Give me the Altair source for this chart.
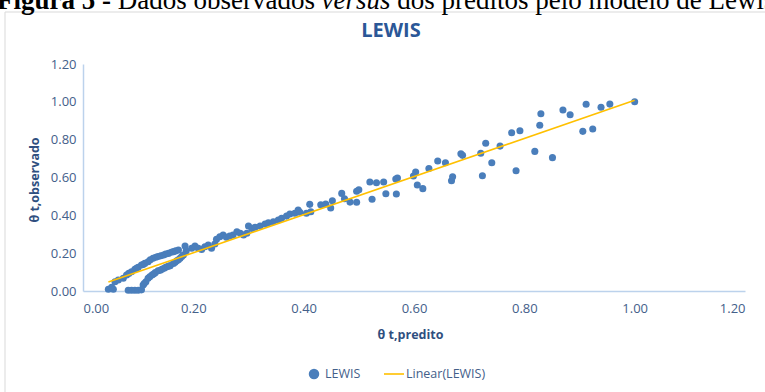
import altair as alt
import pandas as pd

# ---- data ----
x_pred = [
    0.046, 0.052, 0.055, 0.058, 0.064, 0.073,
    0.079, 0.083, 0.088, 0.094, 0.097, 0.100, 0.106, 0.109, 0.112, 0.118, 0.122, 0.127,
    0.132, 0.136, 0.141, 0.146, 0.150, 0.155, 0.160, 0.164, 0.168, 0.173,
    0.082, 0.088, 0.094, 0.100, 0.106,
    0.109, 0.111, 0.114, 0.118, 0.121, 0.125, 0.128, 0.131, 0.136, 0.140, 0.143, 0.147,
    0.150, 0.154, 0.158, 0.164, 0.167, 0.170, 0.173, 0.176, 0.179, 0.182, 0.187,
    0.185,
    0.197, 0.203, 0.209, 0.215, 0.221, 0.227, 0.233, 0.239, 0.242, 0.248, 0.254, 0.260,
    0.266, 0.272, 0.279, 0.285, 0.291, 0.297, 0.300, 0.306, 0.312, 0.321, 0.330, 0.336,
    0.345, 0.354, 0.360, 0.369, 0.375, 0.384, 0.390,
    0.393, 0.405, 0.413, 0.411, 0.431, 0.440, 0.449, 0.452, 0.469, 0.474, 0.484, 0.496,
    0.496, 0.500, 0.520, 0.524, 0.532, 0.545, 0.549, 0.567, 0.570, 0.568, 0.599, 0.603,
    0.606, 0.616, 0.627, 0.643, 0.657, 0.668, 0.670, 0.685, 0.688, 0.721, 0.724, 0.730,
    0.741, 0.756, 0.777, 0.785, 0.792, 0.819, 0.828, 0.830, 0.851, 0.870, 0.883, 0.906,
    0.912, 0.924, 0.939, 0.955, 1.000,
]
y_obs = [
    0.009, 0.020, 0.009, 0.049, 0.058, 0.067,
    0.085, 0.093, 0.102, 0.115, 0.120, 0.125, 0.137, 0.140, 0.146, 0.155, 0.165, 0.173,
    0.178, 0.182, 0.186, 0.190, 0.195, 0.199, 0.205, 0.208, 0.212, 0.217,
    0.004, 0.004, 0.004, 0.004, 0.006,
    0.032, 0.040, 0.049, 0.067, 0.075, 0.085, 0.090, 0.097, 0.107, 0.110, 0.115, 0.120,
    0.125, 0.130, 0.134, 0.146, 0.152, 0.160, 0.165, 0.173, 0.182, 0.190, 0.211,
    0.238,
    0.226, 0.238, 0.226, 0.220, 0.234, 0.243, 0.226, 0.248, 0.273, 0.287, 0.296, 0.284,
    0.291, 0.296, 0.313, 0.305, 0.296, 0.305, 0.344, 0.331, 0.337, 0.344, 0.354, 0.361,
    0.366, 0.375, 0.384, 0.396, 0.407, 0.411, 0.428,
    0.416, 0.411, 0.419, 0.458, 0.456, 0.460, 0.439, 0.477, 0.516, 0.488, 0.470, 0.469,
    0.527, 0.535, 0.576, 0.485, 0.572, 0.576, 0.514, 0.592, 0.597, 0.513, 0.608, 0.629,
    0.560, 0.541, 0.648, 0.687, 0.678, 0.583, 0.604, 0.726, 0.717, 0.728, 0.609, 0.781,
    0.678, 0.766, 0.837, 0.636, 0.847, 0.738, 0.876, 0.937, 0.705, 0.957, 0.932, 0.844,
    0.987, 0.856, 0.971, 0.988, 1.000,
]
axis_ticks = [0.0, 0.2, 0.4, 0.6, 0.8, 1.0, 1.2]
chart_title = ["LEWIS"]
legend_labels = ["LEWIS", "Linear(LEWIS)"]
caption_parts = ["Figura 5 -", "Dados observados", "versus", "dos preditos pelo modelo de Lewis"]
x_title = "θ t,predito"
y_title = "θ t,observado"

df = pd.DataFrame({"pred": x_pred, "obs": y_obs})

W, H = 662, 227
PL, PT = 83, 64
TXT = "#44608a"
PT_COLOR = "#4a7ebb"
LINE_COLOR = "#FFC000"

xs = alt.Scale(domain=[0, 1.2], nice=False, zero=False)
ys = alt.Scale(domain=[0, 1.2], nice=False, zero=False)

x_axis = alt.Axis(values=axis_ticks, format=".2f", title=x_title,
                  labelPadding=11, labelOverlap=False,
                  titleX=W / 2 - 4, titleY=43, titleBaseline="middle")
y_axis = alt.Axis(values=axis_ticks, format=".2f", title=y_title,
                  labelPadding=7, labelOverlap=False,
                  titleX=-49, titleY=H / 2 + 2,
                  titleAngle=270, titleAlign="center", titleBaseline="middle")

points = alt.Chart(df).mark_circle(size=50, color=PT_COLOR, opacity=1).encode(
    x=alt.X("pred:Q", scale=xs, axis=x_axis),
    y=alt.Y("obs:Q", scale=ys, axis=y_axis),
)

trend = alt.Chart(df).transform_regression("pred", "obs").mark_line(
    color=LINE_COLOR, strokeWidth=1.6
).encode(x=alt.X("pred:Q", scale=xs, axis=x_axis), y=alt.Y("obs:Q", scale=ys, axis=y_axis))

frame = alt.Chart(pd.DataFrame({"a": [0]})).mark_rect(
    fillOpacity=0, stroke="#d9d9d9", strokeWidth=1
).encode(x=alt.value(5 - PL), y=alt.value(12 - PT), x2=alt.value(W + 60), y2=alt.value(H + 200))

title = alt.Chart(pd.DataFrame({"t": chart_title})).mark_text(
    font="Open Sans", fontSize=20, fontWeight="bold", color="#2b5797",
    align="center", baseline="middle"
).encode(text="t:N", x=alt.value(391 - PL), y=alt.value(31 - PT))

# caption (partly cut at the top, as in the reference)
cap_fs = 27
cap_x = [-3, -3 + 4.472 * cap_fs, -3 + 12.022 * cap_fs, -3 + 14.827 * cap_fs]
cap_styles = [("bold", "normal"), ("normal", "normal"), ("normal", "italic"), ("normal", "normal")]
caption_layers = []
for part, cx, (fw, fst) in zip(caption_parts, cap_x, cap_styles):
    caption_layers.append(
        alt.Chart(pd.DataFrame({"t": [part]})).mark_text(
            font="Liberation Serif", fontSize=cap_fs, fontWeight=fw, fontStyle=fst,
            color="#000000", align="left", baseline="alphabetic"
        ).encode(text="t:N", x=alt.value(cx - PL), y=alt.value(9 - PT))
    )

# legend
leg_y = 374 - PT
leg_point = alt.Chart(pd.DataFrame({"a": [0]})).mark_circle(size=110, color=PT_COLOR, opacity=1).encode(
    x=alt.value(314 - PL), y=alt.value(leg_y))
leg_line = alt.Chart(pd.DataFrame({"a": [0]})).mark_rule(color=LINE_COLOR, strokeWidth=1.6).encode(
    x=alt.value(384 - PL), x2=alt.value(404 - PL), y=alt.value(leg_y))
leg_text1 = alt.Chart(pd.DataFrame({"t": [legend_labels[0]]})).mark_text(
    font="Open Sans", fontSize=12.5, color=TXT, align="left", baseline="middle"
).encode(text="t:N", x=alt.value(325 - PL), y=alt.value(leg_y))
leg_text2 = alt.Chart(pd.DataFrame({"t": [legend_labels[1]]})).mark_text(
    font="Open Sans", fontSize=12.5, color=TXT, align="left", baseline="middle"
).encode(text="t:N", x=alt.value(406 - PL), y=alt.value(leg_y))

chart = alt.layer(
    frame, points, trend, title, *caption_layers, leg_point, leg_line, leg_text1, leg_text2
).properties(
    width=W, height=H,
    autosize=alt.AutoSizeParams(type="none"),
    padding={"left": PL, "top": PT, "right": 765 - PL - W, "bottom": 392 - PT - H},
).configure_view(stroke=None).configure_axis(
    grid=False, ticks=False, labelOverlap=False,
    domainColor="#bcd2ec", domainWidth=1.5,
    labelFont="Open Sans", labelFontSize=13, labelColor=TXT,
    titleFont="Open Sans", titleFontSize=12.5, titleFontWeight="bold", titleColor="#2f4f7f",
)

chart.save("out.html", embed_options={"renderer": "svg", "actions": False})
